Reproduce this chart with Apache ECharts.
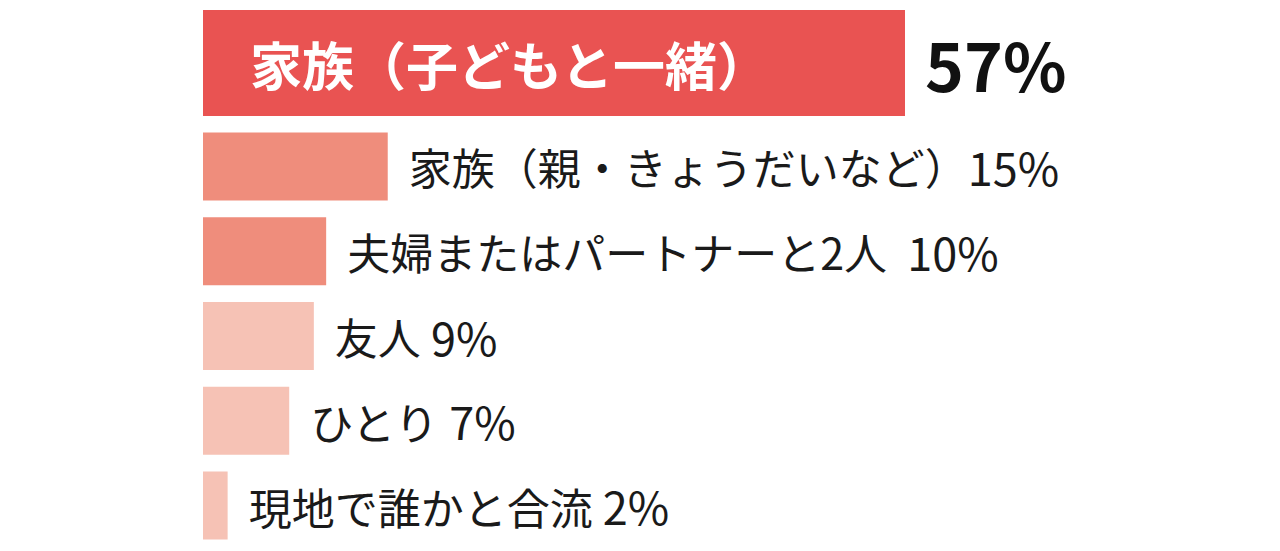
<!DOCTYPE html>
<html lang="ja">
<head>
  <meta charset="UTF-8">
  <title>同行者</title>
  <style>
    html, body { margin: 0; padding: 0; background: #fff; }
  </style>
</head>
<body>
  <div id="chart" style="width: 1280px; height: 551px;"></div>
  <script src="https://cdn.jsdelivr.net/npm/echarts@6/dist/echarts.min.js"></script>
  <script>
    const categories = ['家族（子どもと一緒）', '家族（親・きょうだいなど）', '夫婦またはパートナーと2人', '友人', 'ひとり', '現地で誰かと合流'];
    const shares = [57, 15, 10, 9, 7, 2];
    const barColors = ['#e95352', '#ef8d7c', '#ef8d7c', '#f6c2b5', '#f6c2b5', '#f6c2b5'];

    const font = '"Noto Sans CJK JP", "Noto Sans", sans-serif';
    const chart = echarts.init(document.getElementById('chart'), null, { renderer: 'svg' });

    // first row sits in its own taller grid, the rest share one
    const topCats = categories.slice(0, 1);
    const topVals = shares.slice(0, 1);
    const restCats = categories.slice(1);
    const restVals = shares.slice(1);

    // full-width closing paren already carries its own space
    const sep = name => name.endsWith('）') ? '' : (name.endsWith('人') && name.length > 2 ? '  ' : ' ');

    chart.setOption({
      animation: false,
      grid: [
        { left: 203, width: 702, top: 10, height: 106 },
        { left: 203, width: 702, top: 124, height: 424 }
      ],
      xAxis: [
        { gridIndex: 0, type: 'value', min: 0, max: 57, show: false },
        { gridIndex: 1, type: 'value', min: 0, max: 57, show: false }
      ],
      yAxis: [
        { gridIndex: 0, type: 'category', data: topCats, show: false },
        { gridIndex: 1, type: 'category', data: restCats, inverse: true, show: false }
      ],
      series: [
        {
          type: 'bar',
          xAxisIndex: 0, yAxisIndex: 0,
          barWidth: 106,
          data: topVals.map((v, i) => ({ value: v, itemStyle: { color: barColors[i] } })),
          label: {
            show: true,
            position: 'insideLeft',
            distance: 47,
            formatter: p => p.name,
            color: '#fff',
            fontFamily: font,
            fontWeight: 'bold',
            fontSize: 52
          }
        },
        {
          type: 'bar',
          xAxisIndex: 0, yAxisIndex: 0,
          barWidth: 106,
          barGap: '-100%',
          data: topVals,
          itemStyle: { color: 'rgba(0,0,0,0)' },
          label: {
            show: true,
            position: 'right',
            distance: 20,
            formatter: p => p.value + '%',
            color: '#111',
            fontFamily: font,
            fontWeight: 'bold',
            fontSize: 66
          }
        },
        {
          type: 'bar',
          xAxisIndex: 1, yAxisIndex: 1,
          barWidth: 68,
          data: restVals.map((v, i) => ({ value: v, itemStyle: { color: barColors[i + 1] } })),
          label: {
            show: true,
            position: 'right',
            distance: 21,
            formatter: p => '{n|' + p.name + '}{v|' + sep(p.name) + p.value + '%}',
            color: '#1a1a1a',
            fontFamily: font,
            rich: {
              n: { fontFamily: font, fontSize: 43, color: '#1a1a1a' },
              v: { fontFamily: font, fontSize: 45, color: '#1a1a1a' }
            }
          }
        }
      ]
    });
  </script>
</body>
</html>
